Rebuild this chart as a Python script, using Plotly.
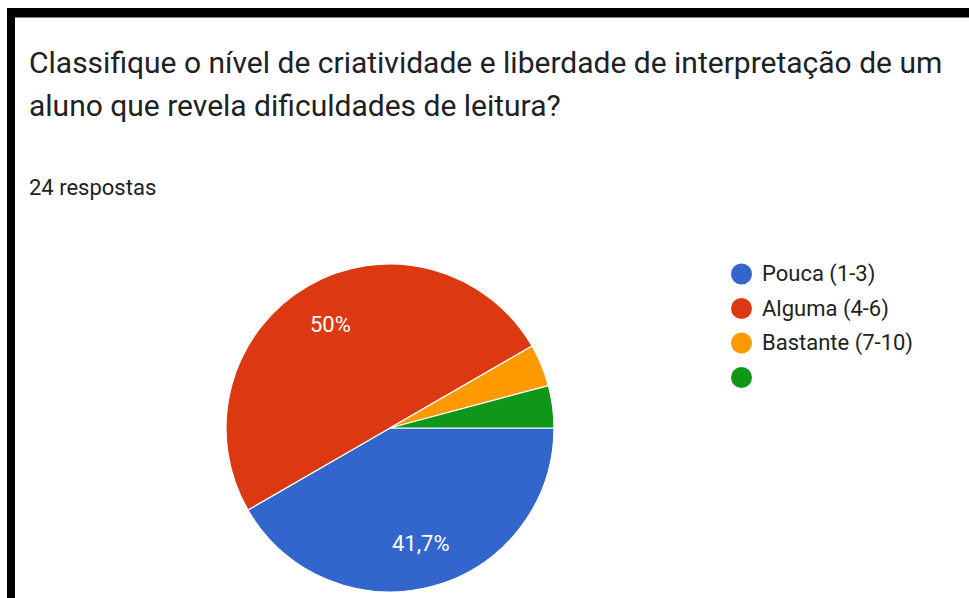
import math
import plotly.graph_objects as go

# Survey answers (24 respostas)
categories = ["Pouca (1-3)", "Alguma (4-6)", "Bastante (7-10)", ""]
counts = [10, 12, 1, 1]
colors = ["#3366CC", "#DC3912", "#FF9900", "#109618"]

title_lines = [
    "Classifique o nível de criatividade e liberdade de interpretação de um",
    "aluno que revela dificuldades de leitura?",
]
subtitle = "24 respostas"

W, H = 969, 598
FONT = "Roboto, Arial, sans-serif"

# Pie geometry (pixels)
CX, CY, R = 390, 428, 164

fig = go.Figure()
fig.add_trace(go.Pie(
    labels=[c if c else " " for c in categories],
    values=counts,
    textinfo="none",
    marker=dict(colors=colors, line=dict(color="white", width=1.2)),
    sort=False,
    direction="clockwise",
    rotation=90,
    showlegend=False,
    hoverinfo="label+percent",
    domain=dict(x=[(CX - R) / W, (CX + R) / W],
                y=[(H - CY - R) / H, (H - CY + R) / H]),
))

def px(x):
    return x / W

def py(y):
    return 1 - y / H

annotations = []

# Percent labels for slices large enough to hold them, placed at mid-angle
total = sum(counts)
start = 0.0
for n in counts:
    frac = n / total
    if frac >= 0.1:
        mid = math.radians((start + frac / 2) * 360)  # clockwise from 3 o'clock
        pct = f"{frac * 100:.1f}".rstrip("0").rstrip(".").replace(".", ",") + "%"
        annotations.append(dict(
            text=pct,
            x=px(CX + 0.73 * R * math.cos(mid)),
            y=py(CY + 0.73 * R * math.sin(mid)),
            xref="paper", yref="paper", showarrow=False,
            xanchor="center", yanchor="middle",
            font=dict(family=FONT, size=22, color="white"),
        ))
    start += frac

for i, line in enumerate(title_lines):
    annotations.append(dict(
        text=line, x=px(27), y=py(62 + 43 * i), xref="paper", yref="paper",
        xanchor="left", yanchor="middle", showarrow=False,
        font=dict(family=FONT, size=30, color="#202124"),
    ))
annotations.append(dict(
    text=subtitle, x=px(27), y=py(187), xref="paper", yref="paper",
    xanchor="left", yanchor="middle", showarrow=False,
    font=dict(family=FONT, size=22, color="#202124"),
))

# Legend drawn as round swatches with labels
shapes = []
for i, (name, col) in enumerate(zip(categories, colors)):
    cy = 274 + 34.5 * i
    shapes.append(dict(
        type="circle", xref="paper", yref="paper",
        x0=px(731), x1=px(752), y0=py(cy + 10.5), y1=py(cy - 10.5),
        fillcolor=col, line=dict(width=0),
    ))
    if name:
        annotations.append(dict(
            text=name, x=px(760), y=py(cy), xref="paper", yref="paper",
            xanchor="left", yanchor="middle", showarrow=False,
            font=dict(family=FONT, size=22, color="#222222"),
        ))

# Dark frame along the top and left edges
shapes.append(dict(type="rect", xref="paper", yref="paper",
                   x0=px(7), x1=px(969), y0=py(17.5), y1=py(8),
                   fillcolor="black", line=dict(width=0)))
shapes.append(dict(type="rect", xref="paper", yref="paper",
                   x0=px(7), x1=px(15), y0=0, y1=py(8),
                   fillcolor="black", line=dict(width=0)))

fig.update_layout(
    width=W, height=H,
    margin=dict(l=0, r=0, t=0, b=0),
    paper_bgcolor="white",
    plot_bgcolor="white",
    annotations=annotations,
    shapes=shapes,
)

fig.write_html("out.html")
